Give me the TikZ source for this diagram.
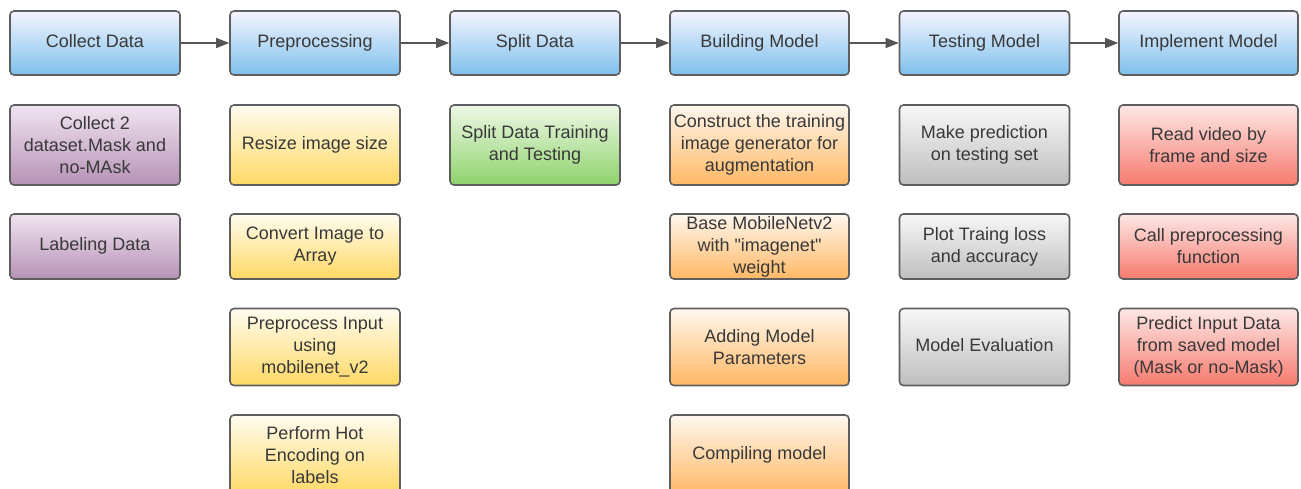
\documentclass[tikz,border=0pt]{standalone}
\usepackage{fontspec}
\setmainfont{Liberation Sans}[Ligatures=TeXOff]
\usetikzlibrary{arrows.meta}

\definecolor{txtgray}{HTML}{383838}
\definecolor{edgegray}{HTML}{5E5E5E}
\definecolor{arrgray}{HTML}{555555}

\begin{document}
\begin{tikzpicture}[x=1pt, y=-1pt,
  every node/.style={font=\fontsize{18}{22}\selectfont, text=txtgray},
  box/.style={draw=edgegray, line width=1.6pt, rounded corners=4pt, minimum width=170pt, align=center, inner sep=1pt},
  wide/.style={minimum width=179pt},
  one/.style={text height=13pt, text depth=5pt},
  head/.style={box, one, minimum height=64pt, top color=blue!4, bottom color={rgb,255:red,126;green,192;blue,236}},
  purp/.style={box, top color={rgb,255:red,240;green,228;blue,240}, bottom color={rgb,255:red,182;green,146;blue,182}},
  yell/.style={box, top color={rgb,255:red,255;green,252;blue,240}, bottom color={rgb,255:red,255;green,217;blue,100}},
  gren/.style={box, top color={rgb,255:red,238;green,248;blue,230}, bottom color={rgb,255:red,142;green,211;blue,108}},
  oran/.style={box, wide, top color={rgb,255:red,255;green,247;blue,238}, bottom color={rgb,255:red,255;green,184;blue,100}},
  gray/.style={box, top color={rgb,255:red,248;green,248;blue,248}, bottom color={rgb,255:red,190;green,190;blue,190}},
  redd/.style={box, wide, top color={rgb,255:red,253;green,232;blue,230}, bottom color={rgb,255:red,246;green,122;blue,110}},
  flow/.style={draw=arrgray, line width=1.5pt, -{Triangle[length=13pt,width=10pt]}}]
\useasboundingbox (0,0) rectangle (1301,488);

% top row: the six stages
\node[head] (collect) at (95,43) {Collect Data};
\node[head] (prep) at (315,43) {Preprocessing};
\node[head] (split) at (535,43) {Split Data};
\node[head, wide] (build) at (759.5,43) {Building Model};
\node[head] (test) at (984.5,43) {Testing Model};
\node[head, wide] (impl) at (1208.5,43) {Implement Model};

\foreach \a/\b in {collect/prep, prep/split, split/build, build/test, test/impl}
  \draw[flow] (\a) -- (\b);

% collect data
\node[purp, minimum height=80pt] (twoset) at (95,145) {Collect 2\\dataset.Mask and\\no-MAsk};
\node[purp, one, minimum height=65pt] (label) at (95,246.5) {Labeling Data};

% preprocessing
\node[yell, one, minimum height=80pt] (resize) at (315,145) {Resize image size};
\node[yell, minimum height=65pt] (toarr) at (315,246.5) {Convert Image to\\Array};
\node[yell, minimum height=77pt] (mobin) at (315,347) {Preprocess Input\\using\\mobilenet\_v2};
\node[yell, minimum height=80pt] (onehot) at (315,455) {Perform Hot\\Encoding on\\labels};

% split data
\node[gren, minimum height=80pt] (trte) at (535,145) {Split Data Training\\and Testing};

% building model
\node[oran, minimum height=80pt] (augm) at (759.5,145) {Construct the training\\image generator for\\augmentation};
\node[oran, minimum height=65pt] (base) at (759.5,246.5) {Base MobileNetv2\\with "imagenet"\\weight};
\node[oran, minimum height=77pt] (param) at (759.5,347) {Adding Model\\Parameters};
\node[oran, one, minimum height=80pt] (compile) at (759.5,455) {Compiling model};

% testing model
\node[gray, minimum height=80pt] (pred) at (984.5,145) {Make prediction\\on testing set};
\node[gray, minimum height=65pt] (plot) at (984.5,246.5) {Plot Traing loss\\and accuracy};
\node[gray, one, minimum height=77pt] (eval) at (984.5,347) {Model Evaluation};

% implement model
\node[redd, minimum height=80pt] (video) at (1208.5,145) {Read video by\\frame and size};
\node[redd, minimum height=65pt] (call) at (1208.5,246.5) {Call preprocessing\\function};
\node[redd, minimum height=77pt] (final) at (1208.5,347) {Predict Input Data\\from saved model\\(Mask or no-Mask)};
\end{tikzpicture}
\end{document}
